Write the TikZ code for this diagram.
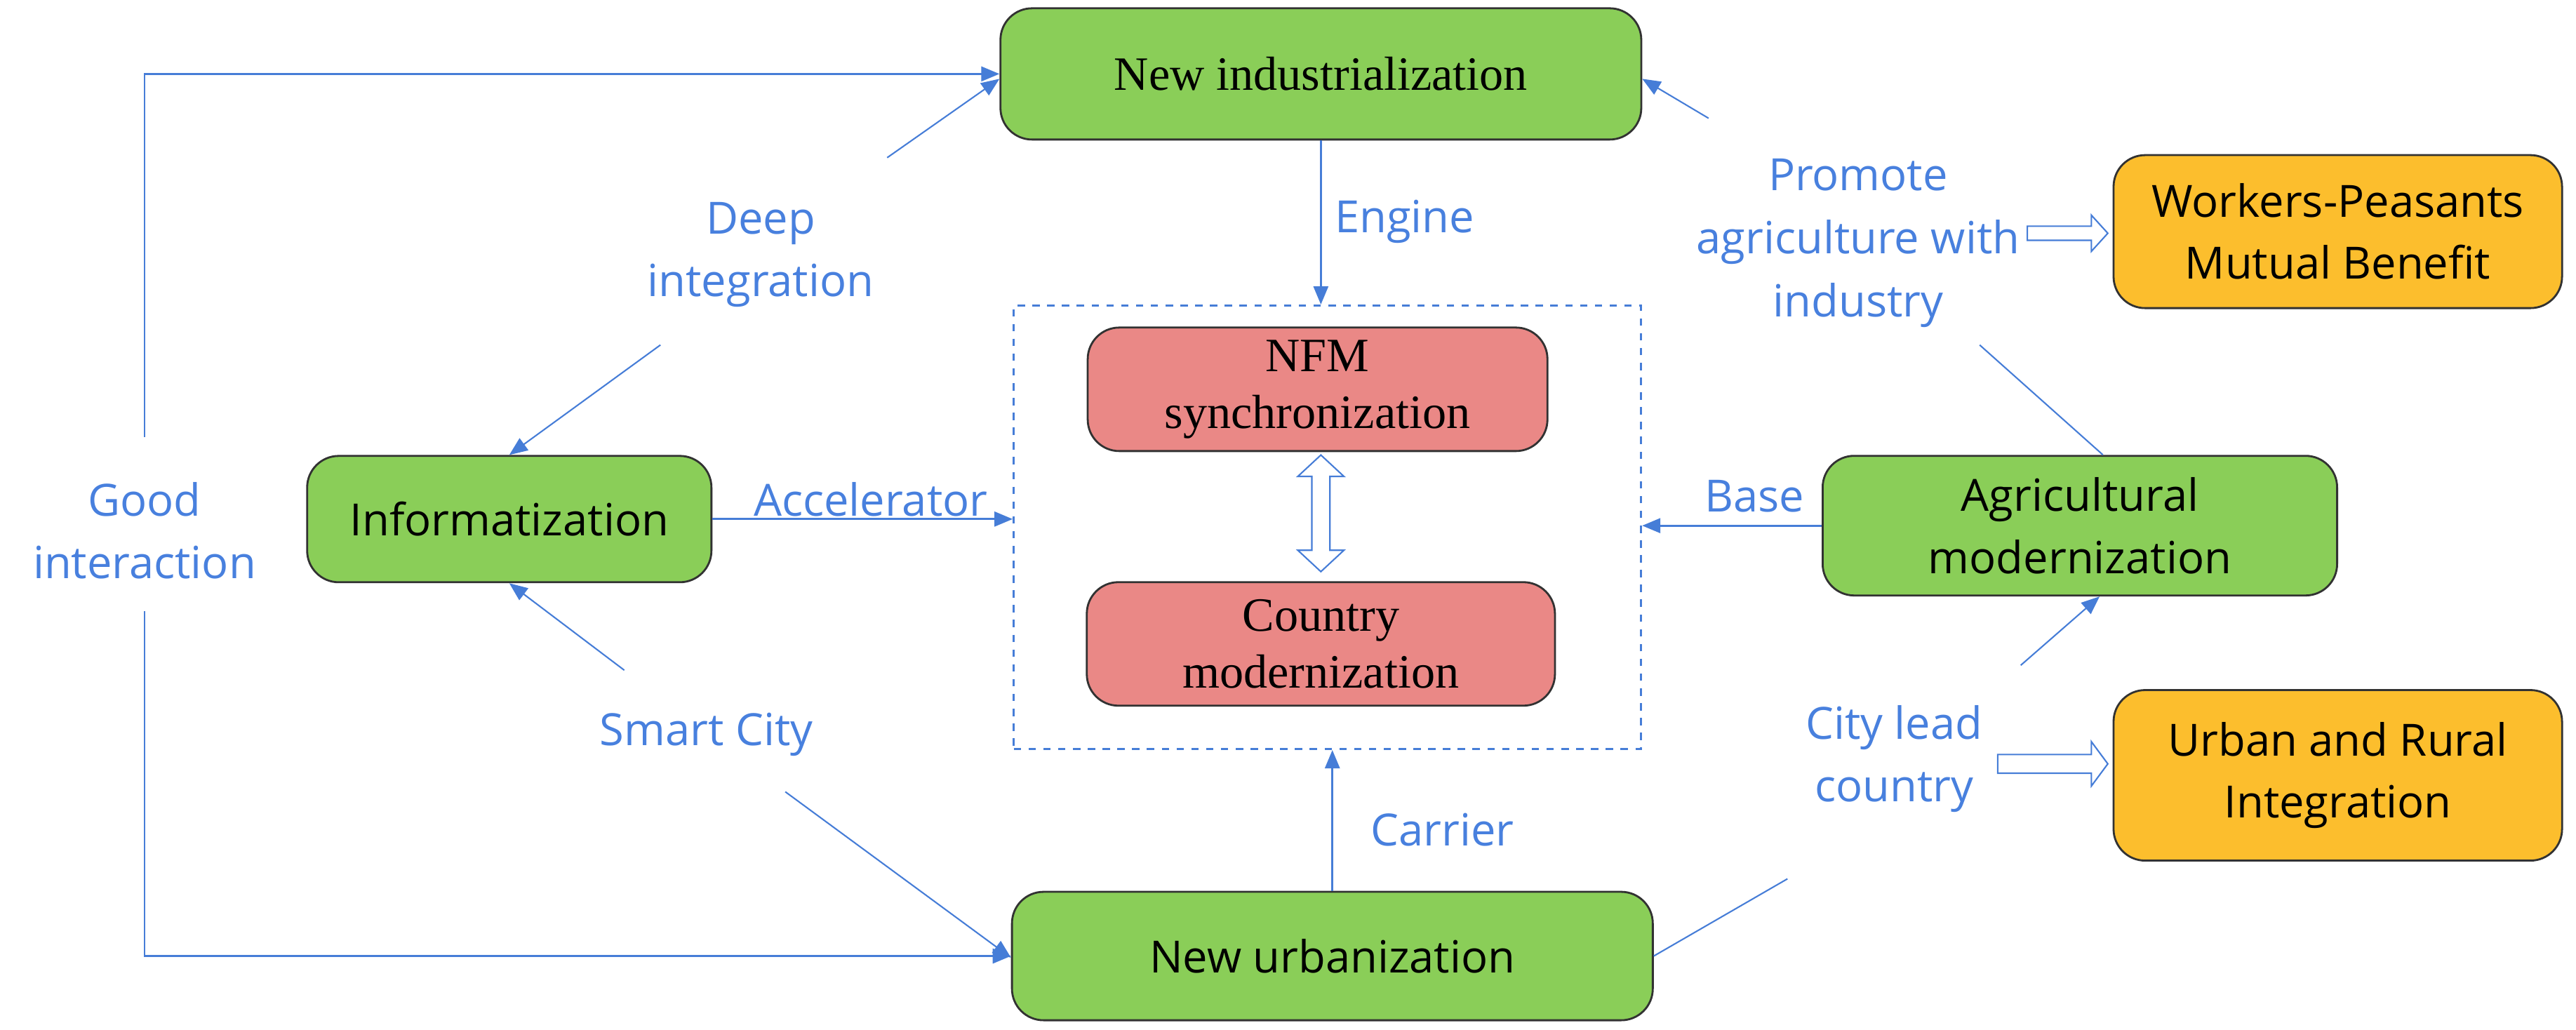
\documentclass[tikz,border=0pt]{standalone}
\usepackage{fontspec}
\setmainfont{Liberation Serif}
\newfontfamily\labfont{Open Sans}
\usetikzlibrary{arrows.meta,calc}
\definecolor{lineblue}{RGB}{70,125,215}
\definecolor{textblue}{RGB}{72,128,222}
\definecolor{boxgreen}{RGB}{138,206,88}
\definecolor{boxorange}{RGB}{252,190,45}
\definecolor{boxpink}{RGB}{234,136,134}
\definecolor{bordergray}{RGB}{50,50,50}
\begin{document}
\begin{tikzpicture}[x=0.02341cm,y=-0.02341cm,
  box/.style={draw=bordergray, line width=0.8pt, rounded corners=0.45cm, inner sep=0pt, align=center},
  greenbox/.style={box, fill=boxgreen, font=\labfont\fontsize{18}{25.5}\selectfont},
  serifgreen/.style={box, fill=boxgreen, font=\fontsize{19.4}{23}\selectfont},
  pinkbox/.style={box, fill=boxpink, font=\fontsize{19.4}{23}\selectfont},
  orangebox/.style={box, fill=boxorange, font=\labfont\fontsize{18}{25}\selectfont},
  lab/.style={text=textblue, font=\labfont\fontsize{18}{25.5}\selectfont, align=center, inner sep=0pt},
  conn/.style={draw=lineblue, line width=0.8pt, -{Triangle[length=0.26cm,width=0.21cm]}},
  dconn/.style={draw=lineblue, line width=0.6pt, -{Triangle[length=0.26cm,width=0.21cm]}},
  thinline/.style={draw=lineblue, line width=0.6pt},
  hollow/.style={draw=lineblue, line width=0.6pt, fill=white}
]
\useasboundingbox (0,0) rectangle (1568,627);

% main nodes
\node[serifgreen, minimum width=9.13cm, minimum height=1.87cm] (ni) at (804,45) {New industrialization};
\node[greenbox, minimum width=5.76cm, minimum height=1.80cm] (inf) at (310,316) {Informatization};
\node[greenbox, minimum width=7.33cm, minimum height=1.99cm] (agr) at (1266,320) {Agricultural\\modernization};
\node[greenbox, minimum width=9.13cm, minimum height=1.83cm] (nu) at (811,582) {New urbanization};
\node[pinkbox, minimum width=6.55cm, minimum height=1.76cm] (nfm) at (802,237) {NFM\\synchronization};
\node[pinkbox, minimum width=6.67cm, minimum height=1.76cm] (cm) at (804,392) {Country\\modernization};
\node[orangebox, minimum width=6.39cm, minimum height=2.18cm] (wp) at (1423,141) {Workers-Peasants\\Mutual Benefit};
\node[orangebox, minimum width=6.39cm, minimum height=2.43cm] (ur) at (1423,472) {Urban and Rural\\Integration};
\node[draw=lineblue, dashed, line width=0.8pt, minimum width=8.94cm, minimum height=6.32cm, inner sep=0pt] (dash) at (808,321) {};

% labels
\node[lab] (lgood) at (88,323) {Good\\interaction};
\node[lab] (ldeep) at (463,155) {Deep\\integration};
\node[lab] (lsmart) at (430,447) {Smart City};
\node[lab] (lacc) at (530,304) {Accelerator};
\node[lab] (leng) at (855,135) {Engine};
\node[lab] (lcar) at (878,505) {Carrier};
\node[lab] (lbase) at (1068,302) {Base};
\node[lab] (lprom) at (1131,148) {Promote\\agriculture with\\industry};
\node[lab] (lcity) at (1153,462) {City lead\\country};

% straight connectors
\draw[conn] (ni.south) -- (ni.south |- dash.north);
\draw[conn] (nu.north) -- (nu.north |- dash.south);
\draw[conn] (inf.east) -- (inf.east -| dash.west);
\draw[conn] (agr.west) -- (agr.west -| dash.east);

% good interaction
\coordinate (g1) at (88,266);
\coordinate (g2) at (88,372);
\draw[conn] (g1) |- (ni.west);
\draw[conn] (g2) |- (nu.west);

% deep integration
\coordinate (d1) at (540,96);
\coordinate (d2) at (402,210);
\draw[dconn] (d1) -- ($(ni.west)+(0,3)$);
\draw[dconn] (d2) -- (inf.north);

% smart city
\coordinate (s1) at (380,408);
\coordinate (s2) at (478,482);
\draw[dconn] (s1) -- (inf.south);
\draw[dconn] (s2) -- ($(nu.west)+(0,1)$);

% promote
\coordinate (p1) at (1040,72);
\coordinate (p2) at (1205,210);
\draw[dconn] (p1) -- ($(ni.east)+(0,3)$);
\draw[thinline] (p2) -- ($(agr.north)+(14,0)$);

% city lead
\coordinate (c1) at (1088,535);
\coordinate (c2) at (1230,405);
\draw[thinline] (nu.east) -- (c1);
\draw[dconn] (c2) -- ($(agr.south)+(12,0)$);

% hollow arrows
\draw[hollow] (804,277) -- (818,290) -- (809.5,290) -- (809.5,335) -- (818,335) -- (804,348) -- (790,335) -- (798.5,335) -- (798.5,290) -- (790,290) -- cycle;
\draw[hollow] (1234,137.7) -- (1273,137.7) -- (1273,131) -- (1283,142) -- (1273,153) -- (1273,146.3) -- (1234,146.3) -- cycle;
\draw[hollow] (1216,459.3) -- (1273,459.3) -- (1273,451.5) -- (1283,465) -- (1273,478.5) -- (1273,470.7) -- (1216,470.7) -- cycle;
\end{tikzpicture}
\end{document}
